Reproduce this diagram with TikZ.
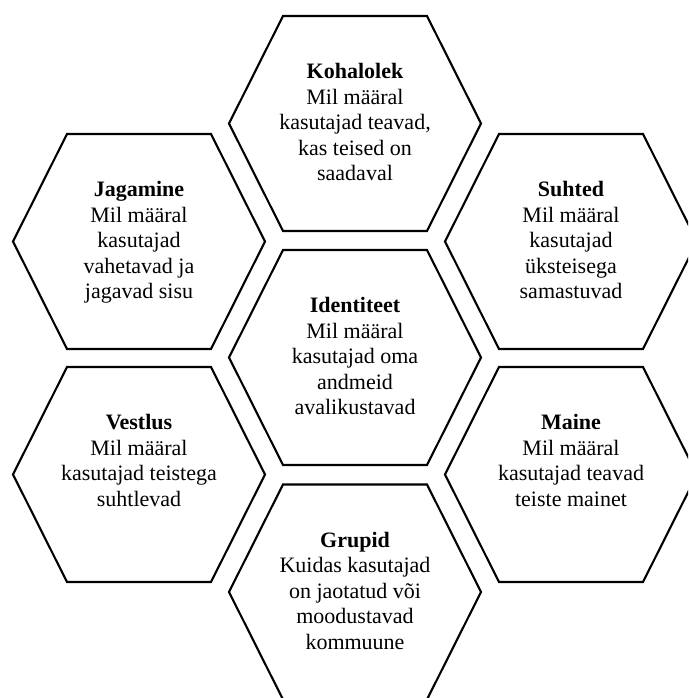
\documentclass[tikz,border=0pt]{standalone}
\usepackage{fontspec}
\setmainfont{Liberation Serif}
\tikzset{
  hexline/.style={draw=black, line width=2.1pt, line join=miter},
  celltext/.style={anchor=north, inner sep=0pt, align=center, text=black,
    font=\fontsize{22}{25.5}\selectfont}
}
\newcommand\hexcell[4]{%
  \coordinate (#1c) at (#2,#3);
  \draw[hexline] (#1c) ++(-126,0) -- ++(54,107.5) -- ++(144,0) -- ++(54,-107.5)
    -- ++(-54,-107.5) -- ++(-144,0) -- cycle;
  \node[celltext] (#1) at ([yshift=63pt]#1c) {\strut#4};
}
\begin{document}
\begin{tikzpicture}[x=1pt,y=1pt]
  \useasboundingbox (0,0) rectangle (688,698);
  \clip (0,0) rectangle (688,698);
  \hexcell{koh}{355}{574.5}{\textbf{Kohalolek}\\Mil määral\\kasutajad teavad,\\kas teised on\\saadaval}
  \hexcell{jag}{139}{456.5}{\textbf{Jagamine}\\Mil määral\\kasutajad\\vahetavad ja\\jagavad sisu}
  \hexcell{suh}{571}{456.5}{\textbf{Suhted}\\Mil määral\\kasutajad\\üksteisega\\samastuvad}
  \hexcell{ide}{355}{340.5}{\textbf{Identiteet}\\Mil määral\\kasutajad oma\\andmeid\\avalikustavad}
  \hexcell{ves}{139}{223.5}{\textbf{Vestlus}\\Mil määral\\kasutajad teistega\\suhtlevad}
  \hexcell{mai}{571}{223.5}{\textbf{Maine}\\Mil määral\\kasutajad teavad\\teiste mainet}
  \hexcell{gru}{355}{106}{\textbf{Grupid}\\Kuidas kasutajad\\on jaotatud või\\moodustavad\\kommuune}
\end{tikzpicture}
\end{document}
